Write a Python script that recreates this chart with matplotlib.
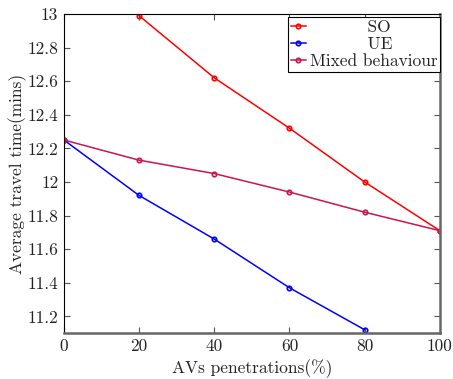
#!/usr/bin/env python3
"""Average travel time vs AV penetration."""

import matplotlib
matplotlib.use('Agg')
import matplotlib.pyplot as plt
from matplotlib.ticker import FuncFormatter

# data
penetration = [0, 20, 40, 60, 80, 100]
so_x = [20, 40, 60, 80, 100]
so_time = [12.99, 12.62, 12.32, 12.00, 11.71]
ue_x = [0, 20, 40, 60, 80]
ue_time = [12.25, 11.92, 11.66, 11.37, 11.12]
mixed_time = [12.25, 12.13, 12.05, 11.94, 11.82, 11.71]

plt.rcParams['font.family'] = 'serif'
plt.rcParams['font.serif'] = ['cmr10']
plt.rcParams['mathtext.fontset'] = 'cm'
plt.rcParams['axes.unicode_minus'] = False

fig = plt.figure(figsize=(4.53, 3.79), dpi=100)
ax = fig.add_axes([0.141, 0.121, 0.830, 0.842])

mixed_color = '#CC1452'
style = dict(marker='o', markersize=3.2, lw=1.1, markerfacecolor='none',
             markeredgewidth=1.2)
ax.plot(so_x, so_time, color='red', label='          SO', **style)
ax.plot(ue_x, ue_time, color='blue', label='          UE', **style)
ax.plot(penetration, mixed_time, color=mixed_color, label='Mixed behaviour', **style)

ax.set_xlim(0, 100)
ax.set_ylim(11.1, 13.0)
ax.set_xticks([0, 20, 40, 60, 80, 100])
ax.set_yticks([11.2, 11.4, 11.6, 11.8, 12.0, 12.2, 12.4, 12.6, 12.8, 13.0])
ax.yaxis.set_major_formatter(FuncFormatter(lambda v, p: '{:g}'.format(round(v, 2))))

ax.tick_params(direction='in', length=4, width=0.8, color='#555555',
               top=True, right=True, labelsize=12.5, pad=4, labelcolor='#222222')
ax.spines['left'].set_color('black')
ax.spines['top'].set_color('black')
ax.spines['bottom'].set_color('#666666')
ax.spines['right'].set_color('#666666')
ax.spines['bottom'].set_linewidth(1.8)
ax.spines['right'].set_linewidth(1.8)

ax.set_xlabel('AVs penetrations(%)', fontsize=12.5, color='#222222')
ax.set_ylabel('Average travel time(mins)', fontsize=12.5, color='#222222', labelpad=0)

leg = ax.legend(loc='upper right', bbox_to_anchor=(1.0, 0.99), fontsize=12.5,
                fancybox=False, framealpha=1, edgecolor='black', borderaxespad=0,
                handlelength=0.9, handletextpad=0.2, borderpad=0.15,
                labelspacing=0.1)
leg.get_frame().set_linewidth(0.8)
for t in leg.get_texts():
    t.set_color('#222222')

plt.savefig('out.png', dpi=100, facecolor='white')
